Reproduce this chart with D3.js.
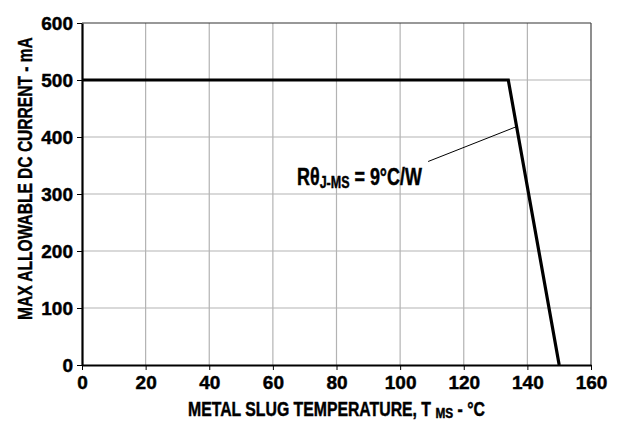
<!DOCTYPE html>
<html>
<head>
<meta charset="utf-8">
<script src="https://cdn.jsdelivr.net/npm/d3@7"></script>
<style>
  html, body { margin: 0; padding: 0; background: #fff; }
  svg text { font-family: "Liberation Sans", Arial, sans-serif; font-weight: bold; fill: #000; stroke: #000; stroke-width: 0.45px; }
</style>
</head>
<body>
<svg id="chart" width="621" height="422"></svg>
<script>
// ---- data ----
const tempValues = [0, 134, 150];            // metal slug temperature, °C
const currentValues = [500, 500, 0];         // max allowable DC current, mA
const xTickValues = [0, 20, 40, 60, 80, 100, 120, 140, 160];
const yTickValues = [0, 100, 200, 300, 400, 500, 600];
const xDomain = [0, 160];
const yDomain = [0, 600];
const annotationLeader = [[108.8, 357], [136.5, 418]];
const annotationMain = "Rθ";
const annotationSub = "J-MS";
const annotationTail = " = 9°C/W";
const xTitleMain = "METAL SLUG TEMPERATURE, T";
const xTitleSub = "MS";
const xTitleTail = " - °C";
const yTitle = "MAX ALLOWABLE DC CURRENT - mA";

// ---- layout ----
const margin = { left: 82, right: 30, top: 23, bottom: 57 };
const W = 621, H = 422;
const svg = d3.select("#chart");
const x = d3.scaleLinear().domain(xDomain).range([margin.left, W - margin.right]);
const y = d3.scaleLinear().domain(yDomain).range([H - margin.bottom, margin.top]);

// grid
const grid = svg.append("g");
grid.selectAll("line.v").data(xTickValues.slice(1, -1)).join("line")
  .attr("x1", d => x(d)).attr("x2", d => x(d))
  .attr("y1", y(yDomain[0])).attr("y2", y(yDomain[1]))
  .attr("stroke", "#b3b3b3").attr("stroke-width", 1.2);
grid.selectAll("line.h").data(yTickValues.slice(1, -1)).join("line")
  .attr("x1", x(xDomain[0])).attr("x2", x(xDomain[1]))
  .attr("y1", d => y(d)).attr("y2", d => y(d))
  .attr("stroke", "#b3b3b3").attr("stroke-width", 1.2);

// top and right frame
svg.append("line").attr("x1", x(xDomain[0])).attr("x2", x(xDomain[1]))
  .attr("y1", y(yDomain[1])).attr("y2", y(yDomain[1])).attr("stroke", "#333").attr("stroke-width", 1.2);
svg.append("line").attr("x1", x(xDomain[1])).attr("x2", x(xDomain[1]))
  .attr("y1", y(yDomain[0])).attr("y2", y(yDomain[1])).attr("stroke", "#444").attr("stroke-width", 1.2);

// axes
const xAxis = svg.append("g").attr("transform", `translate(0,${y(0)})`)
  .call(d3.axisBottom(x).tickValues(xTickValues).tickSize(5).tickPadding(5).tickSizeOuter(0));
const yAxis = svg.append("g").attr("transform", `translate(${x(0)},0)`)
  .call(d3.axisLeft(y).tickValues(yTickValues).tickSize(5).tickPadding(4).tickSizeOuter(0));
[xAxis, yAxis].forEach(a => {
  a.select(".domain").attr("stroke", "#000").attr("stroke-width", 2.2);
  a.selectAll(".tick line").attr("stroke", "#000").attr("stroke-width", 1);
  a.selectAll(".tick text").attr("font-size", 19)
    .style("font-family", '"Liberation Sans", Arial, sans-serif').style("font-weight", "bold");
});
yAxis.selectAll(".tick text").attr("dy", "0.36em");
xAxis.selectAll(".tick text").attr("dy", "0.74em");

// data line
svg.append("path")
  .datum(tempValues.map((t, i) => [t, currentValues[i]]))
  .attr("fill", "none").attr("stroke", "#000").attr("stroke-width", 3.2)
  .attr("stroke-linejoin", "miter")
  .attr("d", d3.line().x(d => x(d[0])).y(d => y(d[1])));

// annotation leader
svg.append("line")
  .attr("x1", x(annotationLeader[0][0])).attr("y1", y(annotationLeader[0][1]))
  .attr("x2", x(annotationLeader[1][0])).attr("y2", y(annotationLeader[1][1]))
  .attr("stroke", "#000").attr("stroke-width", 1);

// helper: draw a condensed text fitted to a target width
function condensed(g, size, targetWidth, build) {
  const t = g.append("text").attr("font-size", size);
  build(t);
  const natural = t.node().getComputedTextLength();
  g.attr("transform", (g.attr("transform") || "") + ` scale(${targetWidth / natural},1)`);
  return t;
}

// annotation label
condensed(svg.append("g").attr("transform", "translate(297,185)"), 23, 125, t => {
  t.append("tspan").text(annotationMain);
  t.append("tspan").attr("font-size", 16).attr("dy", 3).text(annotationSub);
  t.append("tspan").attr("dy", -3).text(annotationTail);
});

// x title
condensed(svg.append("g").attr("transform", "translate(188,416)"), 20, 297, t => {
  t.append("tspan").text(xTitleMain + " ");
  t.append("tspan").attr("font-size", 15).attr("dy", 2).text(xTitleSub);
  t.append("tspan").attr("dy", -2).text(xTitleTail);
});

// y title
condensed(svg.append("g").attr("transform", "translate(32,320) rotate(-90)"), 21, 283, t => {
  t.text(yTitle);
});
</script>
</body>
</html>
